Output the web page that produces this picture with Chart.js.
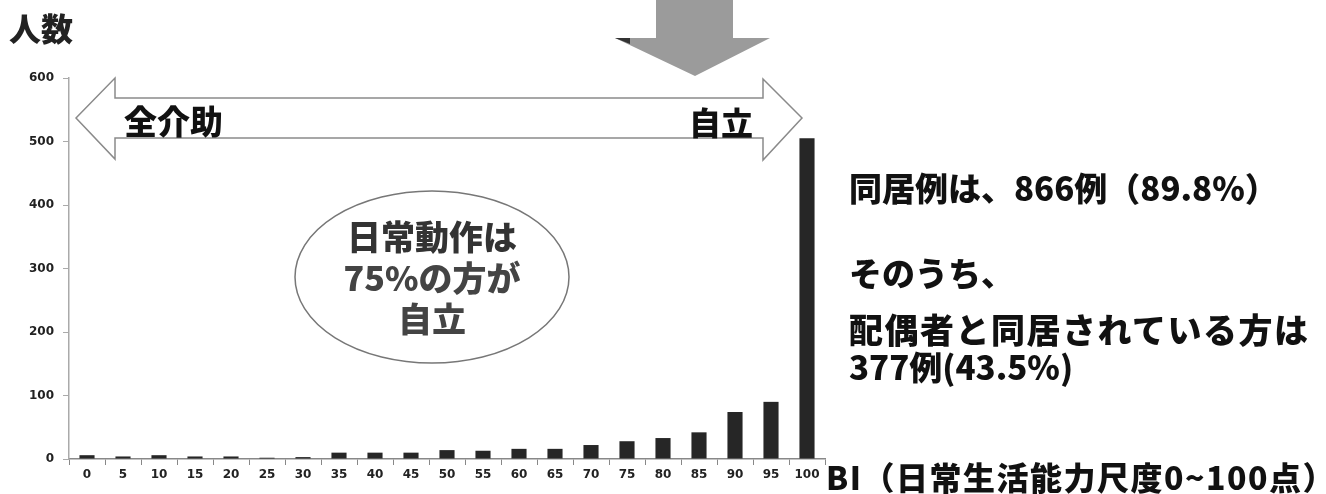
<!DOCTYPE html>
<html>
<head>
<meta charset="utf-8">
<script src="https://cdn.jsdelivr.net/npm/chart.js@4.4.1/dist/chart.umd.min.js"></script>
<style>
  html, body { margin: 0; padding: 0; background: #fff; }
  #wrap { position: relative; width: 1326px; height: 494px; overflow: hidden; }
  #wrap canvas { position: absolute; left: 0; top: 0; }
  .t { position: absolute; font-family: "Noto Sans CJK JP", sans-serif; font-weight: 900;
       line-height: 1; white-space: nowrap; transform: translateY(-50%); color: #111; }
</style>
</head>
<body>
<div id="wrap">
  <canvas id="chart" width="1326" height="494"></canvas>
  <div class="t" style="left:9px; top:27px; font-size:32px; color:#222;">人数</div>
  <div class="t" style="left:124px; top:120px; font-size:33px;">全介助</div>
  <div class="t" style="left:689px; top:121px; font-size:32px;">自立</div>
  <div class="t" style="left:302px; top:276px; width:260px; text-align:center; font-size:34px; line-height:41px; color:#333;">日常動作は<br><span style="color:#444">75%の方が<br>自立</span></div>
  <div class="t" style="left:849px; top:187px; font-size:33px;">同居例は、866例（89.8%）</div>
  <div class="t" style="left:849px; top:272px; font-size:33px;">そのうち、</div>
  <div class="t" style="left:849px; top:329px; font-size:34px; letter-spacing:1.5px;">配偶者と同居されている方は</div>
  <div class="t" style="left:849px; top:366px; font-size:33px;">377例(43.5%)</div>
  <div class="t" style="left:826px; top:476px; font-size:32px; letter-spacing:1.5px;">BI（日常生活能力尺度0~100点）</div>
</div>
<script>
// BI score buckets and number of people
const biScores = ["0","5","10","15","20","25","30","35","40","45","50","55","60","65","70","75","80","85","90","95","100"];
const peopleCount = [6, 4, 6, 4, 4, 2, 3, 10, 10, 10, 14, 13, 16, 16, 22, 28, 33, 42, 74, 90, 505];
const yTicks = [0, 100, 200, 300, 400, 500, 600];

// arrows and the ellipse drawn over the chart
const shapes = {
  id: "shapes",
  afterDraw(chart) {
    const c = chart.ctx;
    c.save();
    // grey down arrow at the top
    c.fillStyle = "#9b9b9b";
    c.beginPath();
    c.moveTo(656, 0); c.lineTo(733, 0); c.lineTo(733, 38);
    c.lineTo(770, 38); c.lineTo(695, 76); c.lineTo(615, 38);
    c.lineTo(656, 38); c.closePath(); c.fill();
    c.fillStyle = "#333";
    c.beginPath();
    c.moveTo(615, 38); c.lineTo(630, 38); c.lineTo(630, 44); c.closePath(); c.fill();

    // double arrow 全介助 <-> 自立
    c.fillStyle = "#fff";
    c.strokeStyle = "#8a8a8a";
    c.lineWidth = 1.5;
    c.beginPath();
    c.moveTo(76, 118);
    c.lineTo(115, 78); c.lineTo(115, 98);
    c.lineTo(763, 98); c.lineTo(763, 79);
    c.lineTo(802, 118);
    c.lineTo(763, 160); c.lineTo(763, 138);
    c.lineTo(115, 138); c.lineTo(115, 159);
    c.closePath();
    c.fill(); c.stroke();

    // ellipse
    c.strokeStyle = "#777";
    c.beginPath();
    c.ellipse(432, 277, 137, 86, 0, 0, Math.PI * 2);
    c.stroke();
    c.restore();
  }
};

new Chart(document.getElementById("chart"), {
  type: "bar",
  data: {
    labels: biScores,
    datasets: [{
      data: peopleCount,
      backgroundColor: "#262626",
      categoryPercentage: 1,
      barPercentage: 0.42
    }]
  },
  options: {
    responsive: false,
    animation: false,
    layout: { padding: { left: 0, right: 501, top: 78, bottom: 0 } },
    plugins: { legend: { display: false }, tooltip: { enabled: false } },
    scales: {
      x: {
        afterFit(s) { s.height = 35; },
        grid: { drawOnChartArea: false, drawTicks: true, tickLength: 6, color: "#888" },
        border: { color: "#888", width: 1.5 },
        ticks: { color: "#222", padding: 3, maxRotation: 0, autoSkip: false,
                 font: { family: "DejaVu Sans", weight: "bold", size: 12 } }
      },
      y: {
        min: 0, max: 600,
        afterFit(s) { s.width = 69; },
        afterBuildTicks(s) { s.ticks = yTicks.map(v => ({ value: v })); },
        grid: { drawOnChartArea: false, drawTicks: true, tickLength: 6, color: "#aaa" },
        border: { color: "#aaa", width: 1.5 },
        ticks: { color: "#222", padding: 9,
                 font: { family: "DejaVu Sans", weight: "bold", size: 12 } }
      }
    }
  },
  plugins: [shapes]
});
</script>
</body>
</html>
